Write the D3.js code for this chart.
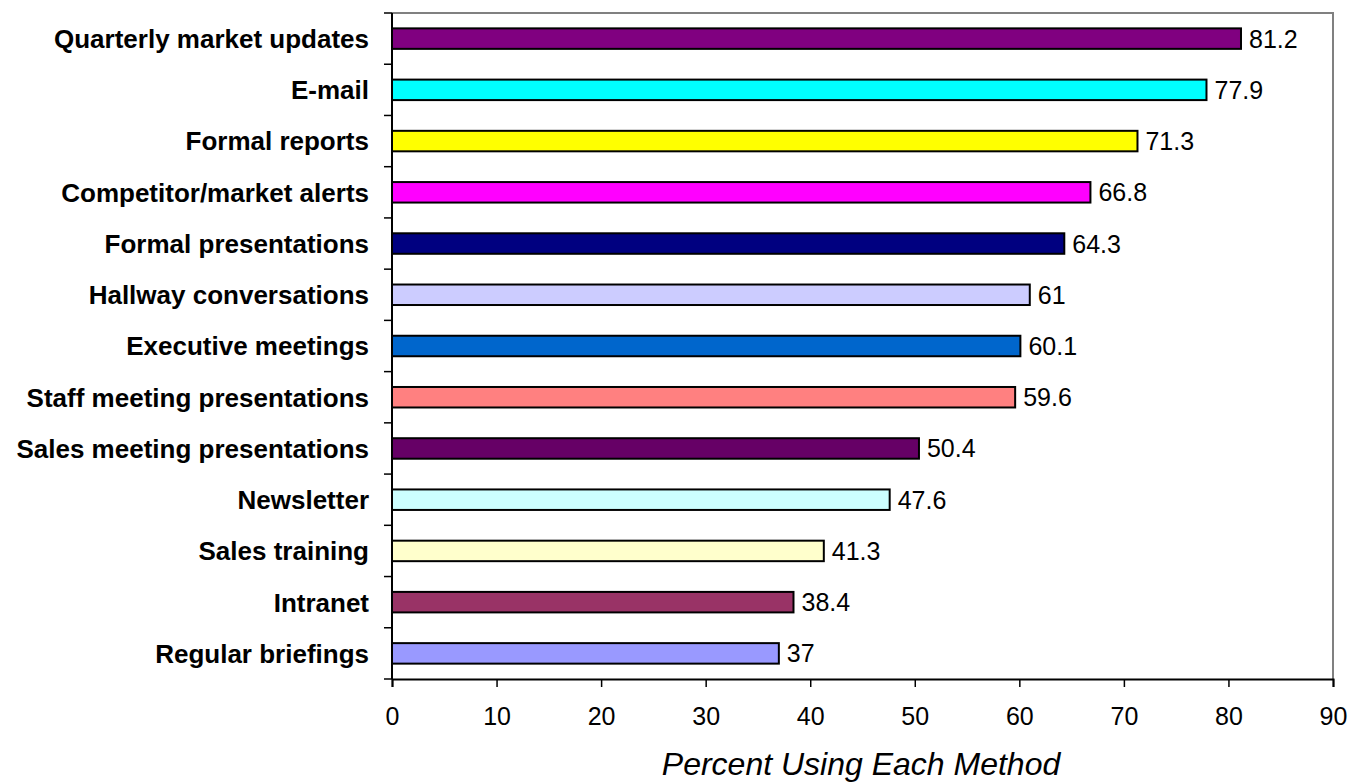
<!DOCTYPE html>
<html>
<head>
<meta charset="utf-8">
<script src="https://cdn.jsdelivr.net/npm/d3@7"></script>
<style>
  body { margin: 0; background: #fff; }
  text { font-family: Arial, "Liberation Sans", sans-serif; }
  .xaxis text { font-size: 25px; }
</style>
</head>
<body>
<script>
var methods = ["Quarterly market updates", "E-mail", "Formal reports", "Competitor/market alerts",
               "Formal presentations", "Hallway conversations", "Executive meetings",
               "Staff meeting presentations", "Sales meeting presentations", "Newsletter",
               "Sales training", "Intranet", "Regular briefings"];
var percents = [81.2, 77.9, 71.3, 66.8, 64.3, 61, 60.1, 59.6, 50.4, 47.6, 41.3, 38.4, 37];
var barColors = ["#800080", "#00FFFF", "#FFFF00", "#FF00FF", "#000080", "#CCCCFF", "#0066CC",
                 "#FF8080", "#660066", "#CCFFFF", "#FFFFCC", "#993366", "#9999FF"];
var xTicks = [0, 10, 20, 30, 40, 50, 60, 70, 80, 90];

var margin = {top: 13, right: 23, bottom: 103, left: 392},
    width = 1356 - margin.left - margin.right,
    height = 782 - margin.top - margin.bottom;

var svg = d3.select("body")
            .append("svg")
            .attr("width", 1356)
            .attr("height", 782);

var g = svg.append("g")
           .attr("transform", "translate(" + margin.left + "," + margin.top + ")");

var xScale = d3.scaleLinear()
               .domain([0, 90])
               .range([0, width]);

var yScale = d3.scaleBand()
               .domain(methods)
               .range([0, height])
               .paddingInner(0.6)
               .paddingOuter(0.3);

// top and right frame
g.append("path")
 .attr("d", "M0,0H" + width + "V" + height)
 .attr("fill", "none")
 .attr("stroke", "#808080")
 .attr("stroke-width", 2);

// bars
g.selectAll(".bar")
 .data(percents)
 .enter()
 .append("rect")
 .attr("class", "bar")
 .attr("x", xScale(0))
 .attr("y", function(d, i) { return yScale(methods[i]); })
 .attr("width", function(d) { return xScale(d) - xScale(0); })
 .attr("height", yScale.bandwidth())
 .attr("fill", function(d, i) { return barColors[i]; })
 .attr("stroke", "#000")
 .attr("stroke-width", 2);

// value labels
g.selectAll(".val")
 .data(percents)
 .enter()
 .append("text")
 .attr("class", "val")
 .attr("x", function(d) { return xScale(d) + 8; })
 .attr("y", function(d, i) { return yScale(methods[i]) + yScale.bandwidth() / 2; })
 .attr("dy", "0.36em")
 .style("font-size", "25px")
 .text(function(d) { return d; });

// x axis
var xAxis = g.append("g")
  .attr("class", "xaxis")
  .attr("transform", "translate(0," + height + ")")
  .call(d3.axisBottom(xScale).tickValues(xTicks).tickSize(8).tickPadding(20));
xAxis.attr("font-size", 25).attr("font-family", "Arial, 'Liberation Sans', sans-serif");
xAxis.select(".domain").attr("stroke-width", 2);
xAxis.selectAll("line").attr("stroke-width", 1.5);

// y axis: ticks between categories
var yAxis = g.append("g");
yAxis.append("line")
     .attr("x1", 0).attr("x2", 0)
     .attr("y1", 0).attr("y2", height)
     .attr("stroke", "#000").attr("stroke-width", 2);
yAxis.selectAll(".ytick")
     .data(d3.range(methods.length + 1))
     .enter()
     .append("line")
     .attr("class", "ytick")
     .attr("x1", -8).attr("x2", 0)
     .attr("y1", function(d) { return d * height / methods.length; })
     .attr("y2", function(d) { return d * height / methods.length; })
     .attr("stroke", "#000").attr("stroke-width", 1.5);

g.selectAll(".cat")
 .data(methods)
 .enter()
 .append("text")
 .attr("class", "cat")
 .attr("x", -23)
 .attr("y", function(d) { return yScale(d) + yScale.bandwidth() / 2; })
 .attr("dy", "0.36em")
 .attr("text-anchor", "end")
 .style("font-size", "26px")
 .style("font-weight", "bold")
 .text(function(d) { return d; });

// axis title
svg.append("text")
   .attr("x", 861)
   .attr("y", 775)
   .attr("text-anchor", "middle")
   .style("font-size", "32px")
   .style("font-style", "italic")
   .text("Percent Using Each Method");
</script>
</body>
</html>
